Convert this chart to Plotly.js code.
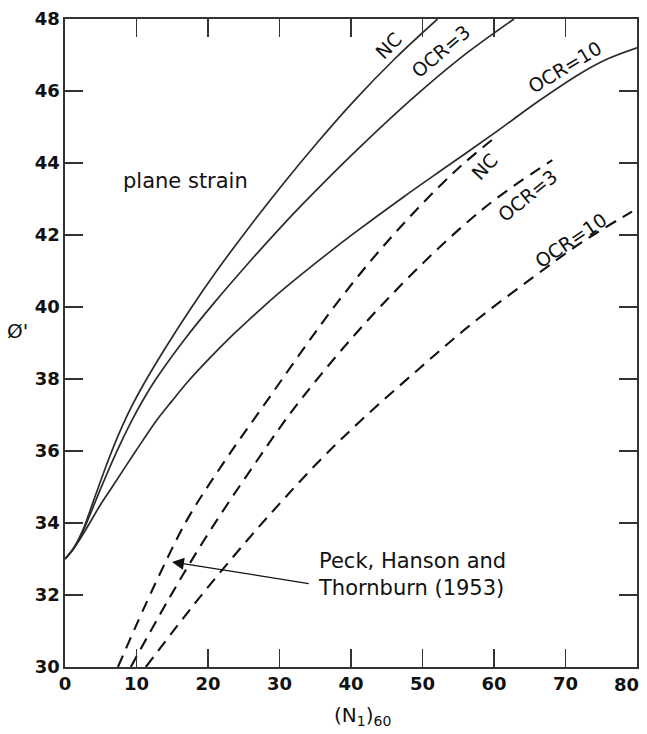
<!DOCTYPE html>
<html>
<head>
<meta charset="utf-8">
<script src="https://cdn.plot.ly/plotly-3.0.1.min.js"></script>
<style>html,body{margin:0;padding:0;background:#fff;}#chart{width:647px;height:734px;}</style>
</head>
<body>
<div id="chart"></div>
<script>
// ---- data: (N1)60 vs friction angle ----
const ncSolidN   = [0, 1.2, 2.4, 3.3, 4.3, 6.2, 7.9, 9.3, 10.9, 14.1, 17.5, 21.1, 24.7, 30.3, 35.3, 40.3, 46.2, 52.1];
const ncSolidPhi = [33, 33.3, 33.76, 34.23, 34.79, 35.82, 36.64, 37.23, 37.82, 38.88, 39.93, 40.97, 41.94, 43.37, 44.57, 45.7, 46.91, 48];

const ocr3SolidN   = [0, 1.2, 2.4, 3.4, 5, 7.2, 9.3, 10.9, 12.8, 16.8, 21, 25.3, 30.1, 33.3, 40.3, 48.4, 55.2, 62.8];
const ocr3SolidPhi = [33, 33.3, 33.72, 34.18, 34.96, 35.97, 36.83, 37.41, 38.02, 39.12, 40.15, 41.14, 42.2, 42.87, 44.26, 45.76, 46.9, 48];

const ocr10SolidN   = [0, 1.2, 2.5, 3.6, 5, 6.6, 9.8, 12.8, 15, 17.2, 20, 23.5, 27.3, 30.1, 32.9, 36.5, 40.3, 47.3, 53.6, 60.2, 66.1, 72.2, 76, 80];
const ocr10SolidPhi = [33, 33.28, 33.68, 34.05, 34.52, 35, 35.97, 36.85, 37.4, 37.93, 38.53, 39.23, 39.93, 40.42, 40.88, 41.45, 42.03, 43.05, 43.93, 44.85, 45.7, 46.5, 46.9, 47.2];

const ncDashN   = [7.4, 12.35, 17.05, 22, 27.35, 38.35, 46.35, 54.45, 59.7];
const ncDashPhi = [30, 32.2, 34.08, 35.62, 37.14, 40.19, 42.1, 43.75, 44.64];

const ocr3DashN   = [9.2, 14.4, 19.6, 25.95, 32.95, 44.95, 58.25, 68.15];
const ocr3DashPhi = [30, 31.85, 33.57, 35.47, 37.42, 40.19, 42.69, 44.08];

const ocr10DashN   = [11.3, 18.3, 25.4, 30.3, 35.7, 41.4, 49.6, 57.3, 65.3, 72.3, 79.3];
const ocr10DashPhi = [30, 31.8, 33.5, 34.6, 35.75, 36.85, 38.3, 39.6, 40.8, 41.8, 42.65];

const xTicks = [0, 10, 20, 30, 40, 50, 60, 70, 80];
const yTicks = [30, 32, 34, 36, 38, 40, 42, 44, 46, 48];

// ---- layout helpers (pixel -> paper) ----
const M = {l: 65, r: 10, t: 19, b: 67};
const PW = 647 - M.l - M.r, PH = 734 - M.t - M.b;
const px = x => (x - M.l) / PW;
const py = y => (M.t + PH - y) / PH;

const solidStyle = {color: '#2b2b2b', width: 1.7, shape: 'spline', smoothing: 1};
const dashStyle  = {color: '#111111', width: 2.1, dash: '12px,8px', shape: 'spline', smoothing: 1};

const mk = (x, y, line) => ({x, y, type: 'scatter', mode: 'lines', line, hoverinfo: 'skip', showlegend: false});
const traces = [
  mk(ncSolidN, ncSolidPhi, solidStyle),
  mk(ocr3SolidN, ocr3SolidPhi, solidStyle),
  mk(ocr10SolidN, ocr10SolidPhi, solidStyle),
  mk(ncDashN, ncDashPhi, dashStyle),
  mk(ocr3DashN, ocr3DashPhi, dashStyle),
  mk(ocr10DashN, ocr10DashPhi, dashStyle)
];

const FONT = 'DejaVu Sans, Liberation Sans, Arial, sans-serif';
const lblFont = {family: FONT, size: 19, color: '#111'};
const bigFont = {family: FONT, size: 21, color: '#111'};
const tickFont = {family: FONT, size: 18, color: '#111', weight: 'bold'};
const txt = (text, x, y, angle, extra) => Object.assign({
  text, xref: 'paper', yref: 'paper', x: px(x), y: py(y),
  xanchor: 'center', yanchor: 'middle', showarrow: false,
  textangle: angle, font: lblFont
}, extra || {});

const lastX = xTicks[xTicks.length - 1];

const annotations = [
  txt('NC', 388, 46, -45),
  txt('OCR=3', 441, 51, -40),
  txt('OCR=10', 565, 67, -31),
  txt('NC', 484, 167, -47),
  txt('OCR=3', 527, 196, -39),
  txt('OCR=10', 571, 240, -34),
  txt('plane strain', 185, 181, 0, {font: bigFont}),
  txt('Peck, Hanson and<br>Thornburn (1953)', 316, 574, 0,
      {xanchor: 'left', align: 'left', font: bigFont}),
  {text: '', xref: 'x', yref: 'y', x: 14.96, y: 32.92, axref: 'x', ayref: 'y', ax: 34.3, ay: 32.31,
   showarrow: true, arrowhead: 2, arrowsize: 2.0, arrowwidth: 1.2, arrowcolor: '#111'},
  txt("Ø'", 17, 331, 0, {font: {family: FONT, size: 20, color: '#111'}}),
  txt('(N<sub>1</sub>)<sub>60</sub>', 362, 716, 0, {font: {family: FONT, size: 20, color: '#111'}}),
  // last x tick label, pulled inside the page like the reference
  txt(String(lastX), 626, 684, 0, {font: tickFont})
];

const axisCommon = {
  showgrid: false, zeroline: false, showline: true, linecolor: '#333', linewidth: 1.6,
  ticks: 'inside', ticklen: 18, tickwidth: 1.3, tickcolor: '#333', mirror: 'ticks',
  tickfont: tickFont, fixedrange: true
};

const layout = {
  width: 647, height: 734, margin: M,
  paper_bgcolor: '#fff', plot_bgcolor: '#fff',
  xaxis: Object.assign({}, axisCommon, {range: [0, 80], tickvals: xTicks,
    ticktext: xTicks.map(v => v === lastX ? '' : String(v))}),
  yaxis: Object.assign({}, axisCommon, {range: [30, 48], tickvals: yTicks, ticktext: yTicks.map(String)}),
  annotations, showlegend: false
};

Plotly.newPlot('chart', traces, layout, {staticPlot: true, displayModeBar: false});
</script>
</body>
</html>
